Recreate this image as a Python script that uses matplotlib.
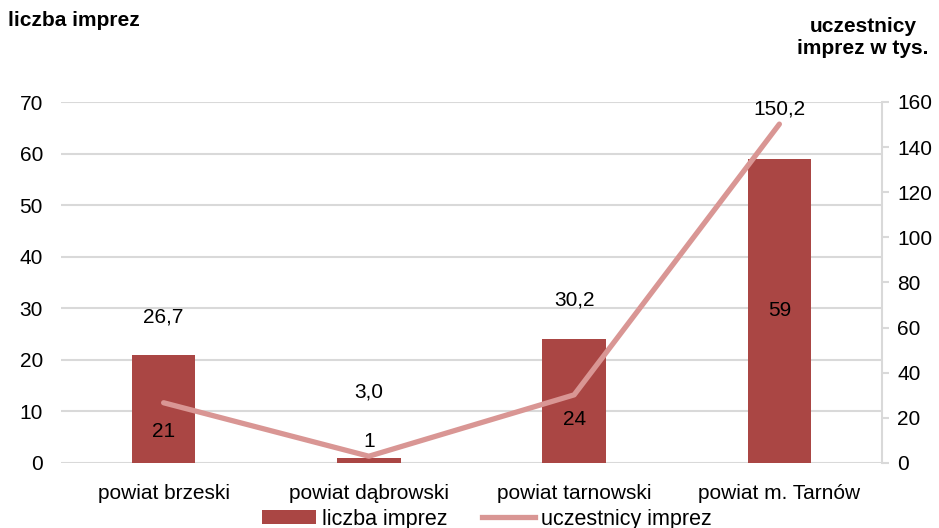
import matplotlib

matplotlib.use("Agg")
import matplotlib.pyplot as plt
from matplotlib.lines import Line2D
from matplotlib.patches import Patch

plt.rcParams["font.family"] = ["Liberation Sans", "DejaVu Sans"]

# data
categories = ["powiat brzeski", "powiat dąbrowski", "powiat tarnowski", "powiat m. Tarnów"]
events = [21, 1, 24, 59]
participants = [26.7, 3.0, 30.2, 150.2]
participant_labels = ["26,7", "3,0", "30,2", "150,2"]

# manual label placement (Excel-style), offsets in points
event_label_dy = [-16, 12, -13, 0]
participant_label_dy = [62, 46, 68, 11]

BAR_COLOR = "#AA4644"
LINE_COLOR = "#D99694"
GRID_COLOR = "#D9D9D9"
FS = 15

fig = plt.figure(figsize=(9.39, 5.28), dpi=100)
ax = fig.add_axes([61 / 939, 65 / 528, 821 / 939, 361 / 528])
ax2 = ax.twinx()

x = list(range(len(categories)))
ax.bar(x, events, width=0.31, color=BAR_COLOR, zorder=2)
ax2.plot(x, participants, color=LINE_COLOR, linewidth=3.8, solid_capstyle="round", zorder=3)

ax.set_xlim(-0.5, len(categories) - 0.5)
ax.set_ylim(0, 70)
ax.set_yticks(range(0, 71, 10))
ax2.set_ylim(0, 160)
ax2.set_yticks(range(0, 161, 20))

ax.grid(axis="y", color=GRID_COLOR, linewidth=1.5, zorder=0)
ax.set_axisbelow(True)
for side in ["top", "left", "right", "bottom"]:
    ax.spines[side].set_visible(False)
for side in ["top", "left", "bottom"]:
    ax2.spines[side].set_visible(False)
ax2.spines["right"].set_color(GRID_COLOR)
ax2.spines["right"].set_linewidth(1.5)

ax.set_xticks(x)
ax.set_xticklabels(categories)
ax.tick_params(axis="x", length=0, labelsize=FS, pad=15)
ax.tick_params(axis="y", length=0, labelsize=FS, pad=13)
ax2.tick_params(axis="y", length=5, width=1.5, color=GRID_COLOR, labelsize=FS, pad=6)

for xi, val, dy in zip(x, events, event_label_dy):
    ax.annotate(str(val), (xi, val / 2 if val > 5 else val), xytext=(0, dy),
                textcoords="offset points", ha="center", va="center", fontsize=FS, zorder=5)

for xi, val, lab, dy in zip(x, participants, participant_labels, participant_label_dy):
    ax2.annotate(lab, (xi, val), xytext=(0, dy), textcoords="offset points",
                 ha="center", va="center", fontsize=FS, zorder=5)

fig.text(8 / 939, 1 - 21 / 528, "liczba imprez", fontsize=15, fontweight="bold", ha="left", va="center")
fig.text(863 / 939, 1 - 37 / 528, "uczestnicy\nimprez w tys.", fontsize=15, fontweight="bold",
         ha="center", va="center", multialignment="center", linespacing=1.2)

handles = [
    Patch(facecolor=BAR_COLOR, edgecolor="none"),
    Line2D([0], [0], color=LINE_COLOR, linewidth=3.8),
]
fig.legend(handles, ["liczba imprez", "uczestnicy imprez"], loc="center",
           bbox_to_anchor=(487 / 939, 1 - 519 / 528), ncol=2, frameon=False, fontsize=15.5,
           handlelength=2.5, handleheight=0.6, handletextpad=0.25, columnspacing=1.6)

fig.savefig("out.png", dpi=100)
